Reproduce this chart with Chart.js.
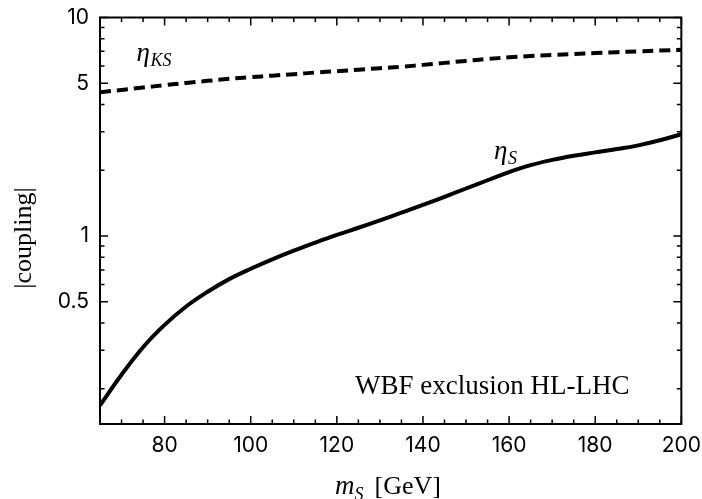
<!DOCTYPE html>
<html>
<head>
<meta charset="utf-8">
<script src="https://cdn.jsdelivr.net/npm/chart.js@4.4.1/dist/chart.umd.min.js"></script>
<style>
  html, body { margin: 0; padding: 0; background: #fff; }
  #wrap { width: 702px; height: 499px; }
</style>
</head>
<body>
<div id="wrap"><canvas id="cpl-chart" width="702" height="499"></canvas></div>
<script>
"use strict";

// mass points in GeV
var masses = [65, 70, 75, 80, 85, 90, 95, 100, 105, 110, 115, 120, 125, 130, 135,
              140, 145, 150, 155, 160, 165, 170, 175, 180, 185, 190, 195, 200];
// eta_S (solid)
var etaS = [0.168, 0.232, 0.31, 0.392, 0.476, 0.556, 0.635, 0.708, 0.782, 0.857, 0.933, 1.012, 1.091, 1.18, 1.279,
            1.387, 1.51, 1.65, 1.80, 1.96, 2.11, 2.23, 2.33, 2.415, 2.5, 2.6, 2.742, 2.924];
// eta_KS (dashed)
var etaKS = [4.55, 4.66, 4.78, 4.90, 5.02, 5.13, 5.24, 5.33, 5.42, 5.50, 5.60, 5.68, 5.77, 5.86, 5.95,
             6.07, 6.20, 6.33, 6.46, 6.57, 6.66, 6.74, 6.81, 6.88, 6.94, 7.00, 7.06, 7.12];

var xTicks = [80, 100, 120, 140, 160, 180, 200];
var xMinor = [65, 70, 75, 85, 90, 95, 105, 110, 115, 125, 130, 135, 145, 150, 155, 165, 170, 175, 185, 190, 195];
var yTicks = [0.5, 1, 5, 10];
var yMinor = [0.2, 0.3, 0.4, 0.6, 0.7, 0.8, 0.9, 2, 3, 4, 6, 7, 8, 9];

// where the plot box should sit on the canvas
var box = {left: 100, top: 17.5, right: 682, bottom: 424};

function toPoints(xs, ys){
    return xs.map(function(x, i){ return {x: x, y: ys[i]}; });
}

var sansFont = "Inter, 'Open Sans', sans-serif";
var serifFont = "'Liberation Serif', 'DejaVu Serif', serif";

var framePlugin = {
    id: 'frame',
    afterDraw: function(chart){
        var ctx = chart.ctx;
        var a = chart.chartArea;
        var xs = chart.scales.x, ys = chart.scales.y;
        ctx.save();
        ctx.strokeStyle = '#000';

        // inward ticks on all four sides
        ctx.lineWidth = 1.5;
        ctx.beginPath();
        xTicks.forEach(function(v){
            var px = xs.getPixelForValue(v);
            ctx.moveTo(px, a.bottom); ctx.lineTo(px, a.bottom - 8);
            ctx.moveTo(px, a.top); ctx.lineTo(px, a.top + 8);
        });
        xMinor.forEach(function(v){
            var px = xs.getPixelForValue(v);
            ctx.moveTo(px, a.bottom); ctx.lineTo(px, a.bottom - 4.5);
            ctx.moveTo(px, a.top); ctx.lineTo(px, a.top + 4.5);
        });
        yTicks.forEach(function(v){
            var py = ys.getPixelForValue(v);
            ctx.moveTo(a.left, py); ctx.lineTo(a.left + 8, py);
            ctx.moveTo(a.right, py); ctx.lineTo(a.right - 8, py);
        });
        yMinor.forEach(function(v){
            var py = ys.getPixelForValue(v);
            ctx.moveTo(a.left, py); ctx.lineTo(a.left + 4.5, py);
            ctx.moveTo(a.right, py); ctx.lineTo(a.right - 4.5, py);
        });
        ctx.stroke();

        // frame
        ctx.lineWidth = 2;
        ctx.strokeRect(a.left, a.top, a.right - a.left, a.bottom - a.top);

        ctx.fillStyle = '#000';
        ctx.textBaseline = 'alphabetic';

        // curve labels
        ctx.textAlign = 'left';
        var kx = xs.getPixelForValue(73.5), ky = ys.getPixelForValue(6.3);
        ctx.font = 'italic 27px ' + serifFont;
        ctx.fillText('\u03b7', kx, ky);
        ctx.font = 'italic 18px ' + serifFont;
        ctx.fillText('KS', kx + 14, ky + 5);

        var sx = xs.getPixelForValue(156.5), sy = ys.getPixelForValue(2.25);
        ctx.font = 'italic 27px ' + serifFont;
        ctx.fillText('\u03b7', sx, sy);
        ctx.font = 'italic 18px ' + serifFont;
        ctx.fillText('S', sx + 14, sy + 5);

        // note
        ctx.font = '27px ' + serifFont;
        ctx.fillText('WBF exclusion HL-LHC', xs.getPixelForValue(124.2), ys.getPixelForValue(0.19));

        // x title
        var tx = 335, tyb = 494;
        ctx.font = 'italic 27px ' + serifFont;
        ctx.fillText('m', tx, tyb);
        var mw = ctx.measureText('m').width;
        ctx.font = 'italic 18px ' + serifFont;
        ctx.fillText('S', tx + mw, tyb + 6);
        ctx.font = '26px ' + serifFont;
        ctx.fillText('[GeV]', tx + mw + 20, tyb);

        // y title
        ctx.translate(31, 238);
        ctx.rotate(-Math.PI / 2);
        ctx.textAlign = 'center';
        ctx.font = '26px ' + serifFont;
        ctx.fillText('|coupling|', 0, 0);
        ctx.restore();
    }
};

var chart = new Chart(document.getElementById('cpl-chart').getContext('2d'), {
    type: 'line',
    data: {
        datasets: [{
            label: 'eta_KS',
            data: toPoints(masses, etaKS),
            borderColor: '#000',
            borderWidth: 4,
            borderDash: [11, 6],
            pointRadius: 0,
            tension: 0.4,
            fill: false
        }, {
            label: 'eta_S',
            data: toPoints(masses, etaS),
            borderColor: '#000',
            borderWidth: 4,
            pointRadius: 0,
            tension: 0.4,
            fill: false
        }]
    },
    options: {
        responsive: false,
        animation: false,
        devicePixelRatio: 1,
        layout: { padding: { top: box.top, right: 702 - box.right, left: 0, bottom: 0 } },
        plugins: {
            legend: { display: false },
            tooltip: { enabled: false }
        },
        scales: {
            x: {
                type: 'linear',
                min: 65,
                max: 200,
                grid: { display: false },
                border: { display: false },
                afterBuildTicks: function(scale){
                    scale.ticks = xTicks.map(function(v){ return {value: v}; });
                },
                afterFit: function(scale){ scale.height = 499 - box.bottom; },
                ticks: {
                    color: '#000',
                    padding: 1,
                    maxRotation: 0,
                    font: { family: sansFont, size: 21 }
                }
            },
            y: {
                type: 'logarithmic',
                min: 0.138,
                max: 10,
                grid: { display: false },
                border: { display: false },
                afterBuildTicks: function(scale){
                    scale.ticks = yTicks.map(function(v){ return {value: v}; });
                },
                afterFit: function(scale){ scale.width = box.left; },
                ticks: {
                    color: '#000',
                    padding: 3,
                    font: { family: sansFont, size: 21 },
                    callback: function(v){ return String(v); }
                }
            }
        }
    },
    plugins: [framePlugin]
});

// label overflow gets added to the padding, so take it back out
var ca = chart.chartArea;
var pad = chart.options.layout.padding;
chart.options.layout.padding = {
    top: pad.top - (ca.top - box.top),
    right: pad.right - (box.right - ca.right),
    left: 0,
    bottom: 0
};
chart.update();
</script>
</body>
</html>
